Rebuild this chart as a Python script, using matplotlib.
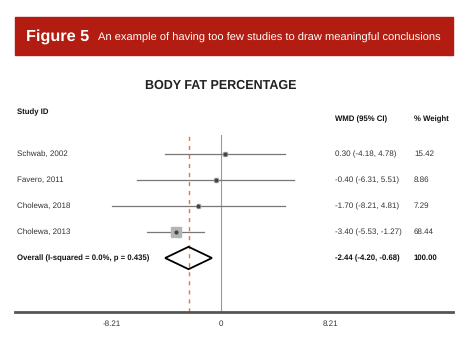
import matplotlib
matplotlib.use("Agg")
import matplotlib.pyplot as plt
from matplotlib.patches import Rectangle, Polygon

plt.rcParams['font.family'] = ['Liberation Sans', 'DejaVu Sans']
plt.rcParams['text.hinting'] = 'none'

studies = ["Schwab, 2002", "Favero, 2011", "Cholewa, 2018", "Cholewa, 2013"]
wmd = [0.30, -0.40, -1.70, -3.40]
lo = [-4.18, -6.31, -8.21, -5.53]
hi = [4.78, 5.51, 4.81, -1.27]
weight = [15.42, 8.86, 7.29, 68.44]
overall_label = "Overall (I-squared = 0.0%, p = 0.435)"
overall = -2.44
overall_lo = -4.20
overall_hi = -0.68
ticks = [-8.21, 0, 8.21]

W, H = 474, 342
fig = plt.figure(figsize=(W / 100, H / 100), dpi=100)

# red banner
fig.patches.append(Rectangle((15 / W, 1 - 55 / H), 438 / W, 38 / H,
                             transform=fig.transFigure, color="#b31c10", zorder=0))
fig.text(26 / W, 1 - 37 / H, "Figure 5", color="white", fontsize=11.7,
         fontweight="bold", va="center")
fig.text(98 / W, 1 - 37.5 / H,
         "An example of having too few studies to draw meaningful conclusions",
         color="white", fontsize=8.0, va="center")

# plot area: x = 0 at px 221, 13.3 px per unit
scale = 13.3
x0 = 221
left, right = 15, 453
top, bottom = 135, 312
ax = fig.add_axes([left / W, 1 - bottom / H, (right - left) / W, (bottom - top) / H])
ax.set_xlim((left - x0) / scale, (right - x0) / scale)
row0, step = 154, 26
ax.set_ylim((bottom - row0) / step, (top - row0) / step)

for s in ["top", "left", "right"]:
    ax.spines[s].set_visible(False)
ax.spines["bottom"].set_color("#555555")
ax.spines["bottom"].set_linewidth(2)
ax.set_yticks([])
ax.set_xticks(ticks)
ax.set_xticklabels(["%g" % t for t in ticks], fontsize=5.8, color="#333333")
ax.tick_params(axis="x", length=0, pad=6)

ax.axvline(0, color="#999999", lw=0.8, zorder=1)
ax.axvline(overall, color="#e8763c", lw=1.0, ls=(0, (3, 3.5)), zorder=1)

xs_name = (17 - x0) / scale
xs_wmd = (335 - x0) / scale
xs_w = (414 - x0) / scale
fs = 5.8

for i in range(len(studies)):
    ax.plot([lo[i], hi[i]], [i, i], color="#777777", lw=0.9, zorder=2)
    h = 0.4 * (weight[i] / 68.44) ** 0.5
    side = h * step / scale
    ax.add_patch(Rectangle((wmd[i] - side / 2, i - h / 2), side, h,
                           color="#b5b5b5", zorder=3))
    ax.plot(wmd[i], i, "o", color="#444444", ms=2, zorder=4)
    ax.text(xs_name, i, studies[i], fontsize=fs, color="#333333", va="center", clip_on=False)
    ax.text(xs_wmd, i, "%.2f (%.2f, %.2f)" % (wmd[i], lo[i], hi[i]), fontsize=fs,
            color="#333333", va="center", clip_on=False)
    ax.text(xs_w, i, "%.2f" % weight[i], fontsize=fs, color="#333333", va="center",
            clip_on=False)

n = len(studies)
ax.add_patch(Polygon([[overall_lo, n], [overall, n - 0.43], [overall_hi, n], [overall, n + 0.43]],
                     closed=True, fill=False, edgecolor="black", lw=1.3, zorder=3))
fb = 5.6
ax.text(xs_name, n, overall_label, fontsize=fb, fontweight="bold", color="#111111",
        va="center", clip_on=False)
ax.text(xs_wmd, n, "%.2f (%.2f, %.2f)" % (overall, overall_lo, overall_hi), fontsize=fb,
        fontweight="bold", color="#111111", va="center", clip_on=False)
ax.text(xs_w, n, "100.00", fontsize=fb, fontweight="bold", color="#111111",
        va="center", clip_on=False)

# headers
ax.text(xs_name, (112 - row0) / step, "Study ID", fontsize=fb, fontweight="bold",
        color="#111111", va="center", clip_on=False)
ax.text(xs_wmd, (119 - row0) / step, "WMD (95% CI)", fontsize=fb, fontweight="bold",
        color="#111111", va="center", clip_on=False)
ax.text(xs_w, (119 - row0) / step, "% Weight", fontsize=fb, fontweight="bold",
        color="#111111", va="center", clip_on=False)
ax.text(0, (86 - row0) / step, "BODY FAT PERCENTAGE", fontsize=9, fontweight="bold",
        color="#222222", ha="center", va="center", clip_on=False)

fig.savefig("out.png", dpi=100)
